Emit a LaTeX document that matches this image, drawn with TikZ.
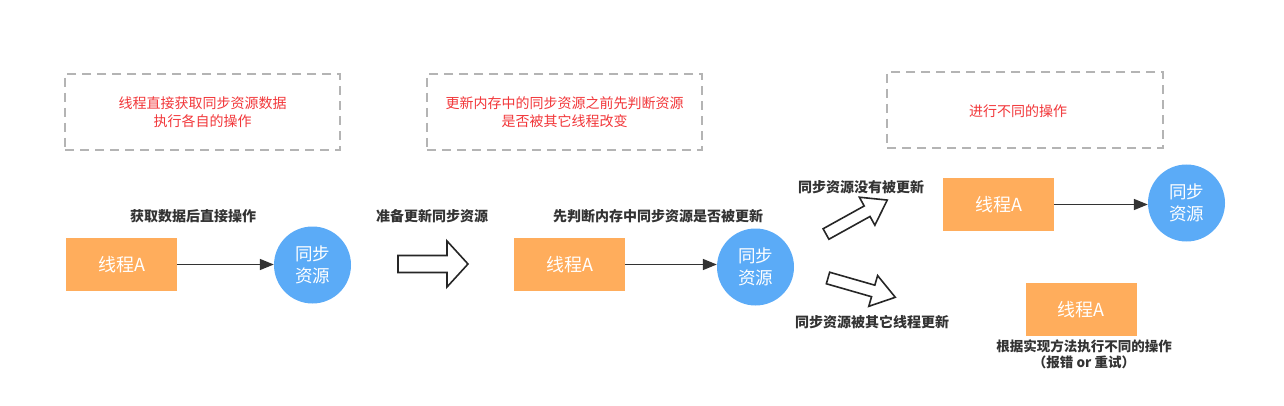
\documentclass[tikz,border=0pt]{standalone}
\usepackage{fontspec}
\setmainfont{Noto Sans CJK SC}
\usetikzlibrary{arrows.meta}
\definecolor{thr}{HTML}{FFAD5C}
\definecolor{res}{HTML}{5BABF7}
\definecolor{note}{HTML}{F2373A}
\definecolor{dash}{HTML}{B4B4B4}
\definecolor{lbl}{HTML}{333333}
\tikzset{
  notebox/.style={draw=dash, line width=1.6pt, dash pattern=on 9pt off 6pt, fill=white},
  notetext/.style={text=note, font=\fontsize{14}{18}\selectfont, align=center},
  thread/.style={fill=thr, minimum width=111pt, minimum height=53pt, text=white, font=\fontsize{18}{20}\selectfont, inner sep=0pt},
  resource/.style={circle, fill=res, minimum size=77pt, text=white, font=\fontsize{17.5}{22}\selectfont, align=center, inner sep=0pt},
  label/.style={text=lbl, font=\bfseries\fontsize{14}{17}\selectfont, align=center},
  link/.style={draw=lbl, line width=1.6pt, -{Triangle[length=14pt,width=11pt]}},
  hollow/.style={draw=black!85, line width=1.6pt, fill=white, line join=miter}
}
\begin{document}
\begin{tikzpicture}[x=1pt,y=-1pt]
\useasboundingbox (0,0) rectangle (1284,406);
% dashed note boxes
\node[notebox, minimum width=275pt, minimum height=76pt] (n1) at (202.5,112) {};
\node[notetext] (t1) at (n1) {线程直接获取同步资源数据\\执行各自的操作};
\node[notebox, minimum width=275pt, minimum height=76pt] (n2) at (564.5,112) {};
\node[notetext] (t2) at (n2) {更新内存中的同步资源之前先判断资源\\是否被其它线程改变};
\node[notebox, minimum width=276pt, minimum height=76pt] (n3) at (1025,110) {};
\node[notetext] (t3) at (1018,111) {进行不同的操作};
% stage 1
\node[label] (l1) at (193,216) {获取数据后直接操作};
\node[thread] (a1) at (121.5,264.5) {线程A};
\node[resource] (r1) at (312.5,265) {同步\\资源};
\draw[link] (a1.east) -- (a1.east -| r1.west);
% big hollow arrow
\begin{scope}[shift={(398,264)}]
\draw[hollow] (0,-8.5) -- (49,-8.5) -- (49,-23) -- (70,0) -- (49,23) -- (49,8.5) -- (0,8.5) -- cycle;
\end{scope}
\node[label] (l2) at (432,216) {准备更新同步资源};
% stage 2
\node[label] (l3) at (658,216) {先判断内存中同步资源是否被更新};
\node[thread] (a2) at (569.5,264.5) {线程A};
\node[resource] (r2) at (755.5,267) {同步\\资源};
\draw[link] (a2.east) -- (a2.east -| r2.west);
% branch arrows
\begin{scope}[shift={(826,234)},rotate=29]
\draw[hollow] (0,-6) -- (47,-6) -- (47,-16) -- (70,0) -- (47,16) -- (47,6) -- (0,6) -- cycle;
\end{scope}
\node[label] (l4) at (861,187) {同步资源没有被更新};
\begin{scope}[shift={(828,278)},rotate=-16]
\draw[hollow] (0,-6) -- (47,-6) -- (47,-16) -- (70,0) -- (47,16) -- (47,6) -- (0,6) -- cycle;
\end{scope}
\node[label] (l5) at (872,322) {同步资源被其它线程更新};
% stage 3 top
\node[thread] (a3) at (998.5,204.5) {线程A};
\node[resource] (r3) at (1186.5,203) {同步\\资源};
\draw[link] (a3.east) -- (a3.east -| r3.west);
% stage 3 bottom
\node[thread] (a4) at (1081,309.5) {线程A};
\node[label, font=\bfseries\fontsize{13.5}{16}\selectfont] (l6) at (1084,354) {根据实现方法执行不同的操作\\（报错 or 重试）};
\end{tikzpicture}
\end{document}
